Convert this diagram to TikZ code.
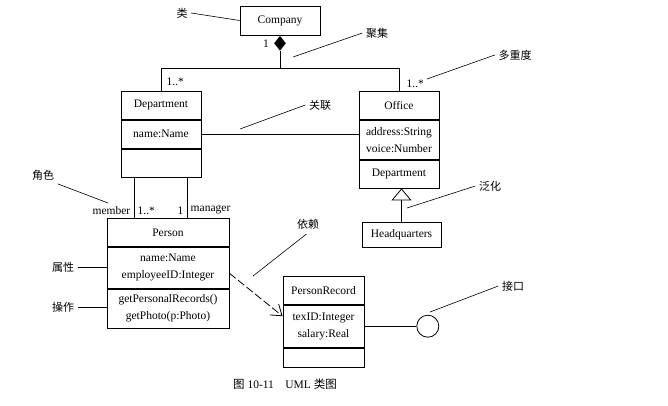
\documentclass[tikz,border=0pt]{standalone}
\usepackage{fontspec}
\setmainfont{Liberation Serif}
\newfontfamily\cjk{Noto Sans CJK SC}
\usetikzlibrary{
  positioning,
  calc,
  shapes.geometric,
  arrows.meta
}

\begin{document}
\begin{tikzpicture}[
    x=1pt, y=-1pt,
    font=\fontsize{11.5}{17}\selectfont,
    line width=0.8pt,
    cls/.style={
      draw=black,
      minimum width=80pt,
      minimum height=28pt,
      inner sep=1pt,
      align=center
      },
    slot/.style={cls, below=0pt of #1},
    remark/.style={font=\cjk\fontsize{11}{13}\selectfont},
    lead/.style={line width=0.6pt}
    ]
\useasboundingbox (0,0) rectangle (668,405);

% classes
\node[cls, minimum height=29pt] (company) at (280,20.5) {Company};

\node[cls, anchor=north] (dep) at (161,91) {Department};
\node[slot=dep] (dep-a) {name:Name};
\node[slot=dep-a] (dep-o) {};

\node[cls, anchor=north] (off) at (399,91) {Office};
\node[slot=off, minimum height=39pt] (off-a) {address:String\\voice:Number};
\node[slot=off-a] (off-o) {Department};

\node[cls, minimum width=79pt, minimum height=25pt, anchor=north] (hq) at (401.5,222) {Headquarters};

\node[cls, minimum width=122pt, anchor=north] (per) at (168,218) {Person};
\node[slot=per, minimum width=122pt, minimum height=41pt] (per-a) {name:Name\\employeeID:Integer};
\node[slot=per-a, minimum width=122pt, minimum height=39pt] (per-o) {getPersonalRecords()\\getPhoto(p:Photo)};

\node[cls, minimum width=81pt, anchor=north] (rec) at (323.5,276) {PersonRecord};
\node[slot=rec, minimum width=81pt, minimum height=42pt] (rec-a) {texID:Integer\\salary:Real};
\node[slot=rec-a, minimum width=81pt, minimum height=19pt] (rec-o) {};

\node[draw, circle, minimum size=22pt, inner sep=0pt, right=52pt of rec-a.east] (ifc) {};

% relations
\node[diamond, fill=black, minimum width=12pt, minimum height=15pt, inner sep=0pt, anchor=north] (agg) at (company.south) {};
\node[left=1pt of agg.west] (m-agg) {1};
\coordinate (bar) at (0,68);
\draw (agg.south) -- (agg.south |- bar);
\draw (dep.north) |- (off.north |- bar) -- (off.north);
\node[above right=2pt and 2pt of dep.north] (m-dep) {1..*};
\node[above right=0pt and 4pt of off.north] (m-off) {1..*};

\draw (dep-a.east) -- (dep-a.east -| off-a.west);

\coordinate (mem) at ([xshift=-27pt]dep-o.south);
\coordinate (mgr) at ([xshift=26pt]dep-o.south);
\draw (mem) -- (mem |- per.north) node[above left] (r-mem) {member} node[above right] (m-mem) {1..*};
\draw (mgr) -- (mgr |- per.north) node[above left] (m-mgr) {1} node[above right] (r-mgr) {manager};

\draw[-{Triangle[open, width=20pt, length=12pt]}] (hq.north) -- (hq.north |- off-o.south);

\draw[dash pattern=on 8pt off 3pt, -{Straight Barb[length=10pt, width=14pt]}]
  ([yshift=-5.5pt]per-a.east) -- ([yshift=10pt]rec-a.west);

\draw (rec-a.east) -- (ifc.west);

% notes
\node[remark] (n-cls) at (182,13) {类};
\draw[lead] (n-cls.east) -- (company.west);
\node[remark] (n-agg) at (377,33) {聚集};
\coordinate (p-agg) at (293,57);
\draw[lead] (n-agg.west) -- (p-agg);
\node[remark] (n-mul) at (515,55) {多重度};
\coordinate (p-mul) at (427,79);
\draw[lead] (n-mul.west) -- (p-mul);
\node[remark] (n-asc) at (320,105) {关联};
\coordinate (p-asc) at (240,129);
\draw[lead] (n-asc.west) -- (p-asc);
\node[remark] (n-gen) at (490,186) {泛化};
\coordinate (p-gen) at (407,208);
\draw[lead] (n-gen.west) -- (p-gen);
\node[remark] (n-dep) at (308,224) {依赖};
\coordinate (p-dep) at (253,276);
\draw[lead, shorten <=2pt] (n-dep.south) -- (p-dep);
\node[remark] (n-ifc) at (513,286) {接口};
\coordinate (p-ifc) at (430,312);
\draw[lead] (n-ifc.west) -- (p-ifc);
\node[remark] (n-role) at (43,175) {角色};
\coordinate (p-role) at (108,203);
\draw[lead] (n-role.south east) -- (p-role);
\node[remark] (n-att) at (63,267) {属性};
\draw[lead] (n-att.east) -- (n-att.east -| per-a.west);
\node[remark] (n-op) at (63,307) {操作};
\draw[lead] (n-op.east) -- (n-op.east -| per-o.west);

\node (cap) at (285,384) {{\cjk 图} 10-11\quad UML {\cjk 类图}};
\end{tikzpicture}
\end{document}
